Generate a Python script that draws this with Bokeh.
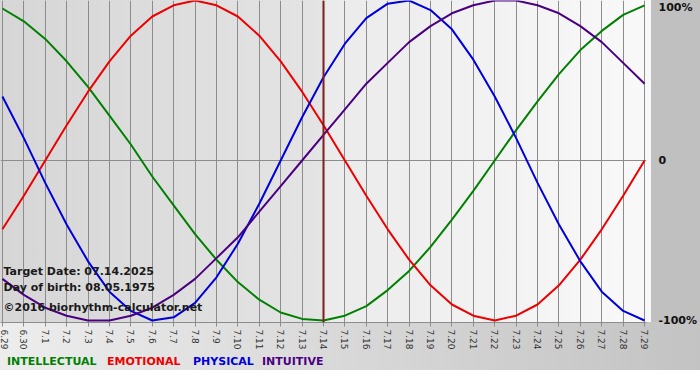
import math
from bokeh.plotting import figure
from bokeh.models import FixedTicker, Span, Label, Range1d, Div
from bokeh.layouts import column
from bokeh.embed import file_html
from bokeh.resources import INLINE

# ---- data ----
dates = ["6.29", "6.30", "7.1", "7.2", "7.3", "7.4", "7.5", "7.6", "7.7", "7.8",
         "7.9", "7.10", "7.11", "7.12", "7.13", "7.14", "7.15", "7.16", "7.17",
         "7.18", "7.19", "7.20", "7.21", "7.22", "7.23", "7.24", "7.25", "7.26",
         "7.27", "7.28", "7.29"]
days = list(range(len(dates)))

intellectual = [0.95, 0.87, 0.76, 0.62, 0.46, 0.28, 0.10, -0.10, -0.28, -0.46,
                -0.62, -0.76, -0.87, -0.95, -0.99, -1.00, -0.97, -0.91, -0.81,
                -0.69, -0.54, -0.37, -0.19, 0.00, 0.19, 0.37, 0.54, 0.69, 0.81,
                0.91, 0.97]
emotional = [-0.43, -0.22, 0.00, 0.22, 0.43, 0.62, 0.78, 0.90, 0.97, 1.00,
             0.97, 0.90, 0.78, 0.62, 0.43, 0.22, 0.00, -0.22, -0.43, -0.62,
             -0.78, -0.90, -0.97, -1.00, -0.97, -0.90, -0.78, -0.62, -0.43,
             -0.22, 0.00]
physical = [0.40, 0.14, -0.14, -0.40, -0.63, -0.82, -0.94, -1.00, -0.98, -0.89,
            -0.73, -0.52, -0.27, 0.00, 0.27, 0.52, 0.73, 0.89, 0.98, 1.00,
            0.94, 0.82, 0.63, 0.40, 0.14, -0.14, -0.40, -0.63, -0.82, -0.94,
            -1.00]
intuitive = [-0.74, -0.84, -0.92, -0.97, -1.00, -1.00, -0.97, -0.92, -0.84,
             -0.74, -0.61, -0.48, -0.32, -0.16, 0.00, 0.16, 0.32, 0.48, 0.61,
             0.74, 0.84, 0.92, 0.97, 1.00, 1.00, 0.97, 0.92, 0.84, 0.74, 0.61,
             0.48]

y_ticks = [-1, 0, 0.96]
y_tick_labels = ["-100%", "0", "100%"]

target_date_text = "Target Date: 07.14.2025"
birth_text = "Day of birth: 08.05.1975"
copyright_text = "\u00a92016 biorhythm-calculator.net"
target_label = "7.14"

series_names = ["INTELLECTUAL", "EMOTIONAL", "PHYSICAL", "INTUITIVE"]
series_colors = ["#008000", "#ee0000", "#0000dd", "#4b0082"]
series_values = [intellectual, emotional, physical, intuitive]

FONT = "DejaVu Sans"

p = figure(width=700, height=352, output_backend="svg", toolbar_location=None,
           x_range=Range1d(days[0] - 0.09, days[-1] + 0.09),
           y_range=Range1d(-1.0125, 1.0),
           y_axis_location="right",
           min_border_left=0, min_border_top=0,
           min_border_right=49, min_border_bottom=30,
           background_fill_color=None, border_fill_color=None,
           outline_line_color=None)

p.styles = {
    "background": (
        "linear-gradient(#c0c0c0,#c0c0c0) 651px 0/49px 322px no-repeat, "
        "linear-gradient(to right,#d6d6d6 0px,#e4e4e4 325px,#ebebeb 326px,#f9f9f9 651px) 0 0/651px 322px no-repeat, "
        "linear-gradient(to right,#ededed,#c3c3c3) 0 0/700px 352px no-repeat, #ffffff"
    )
}

# grids
p.xgrid.ticker = FixedTicker(ticks=days)
p.xgrid.grid_line_color = "#8c8c8c"
p.xgrid.grid_line_width = 1
p.ygrid.ticker = FixedTicker(ticks=[0])
p.ygrid.grid_line_color = "#8c8c8c"
p.ygrid.grid_line_width = 1

# x axis
xa = p.xaxis[0]
xa.ticker = FixedTicker(ticks=days)
xa.major_label_overrides = {d: lab for d, lab in zip(days, dates)}
xa.major_label_orientation = -math.pi / 2
xa.major_label_text_font = FONT
xa.major_label_text_font_size = "9px"
xa.major_label_text_color = "#333333"
xa.major_label_standoff = 3
xa.axis_line_color = "#8c8c8c"
xa.major_tick_line_color = "#8c8c8c"
xa.major_tick_out = 4
xa.major_tick_in = 0
xa.minor_tick_line_color = None

# y axis (right)
ya = p.yaxis[0]
ya.ticker = FixedTicker(ticks=y_ticks)
ya.major_label_overrides = {t: lab for t, lab in zip(y_ticks, y_tick_labels)}
ya.major_label_text_font = FONT
ya.major_label_text_font_size = "11px"
ya.major_label_text_font_style = "bold"
ya.major_label_text_color = "#111111"
ya.major_label_standoff = 6
ya.axis_line_color = None
ya.major_tick_line_color = None
ya.minor_tick_line_color = None

# curves
for vals, col in zip(series_values, series_colors):
    p.line(days, vals, line_color=col, line_width=2)

# target day line
p.add_layout(Span(location=dates.index(target_label), dimension="height",
                  line_color="#7f1f1f", line_width=2))

# info texts
for txt, yy in [(target_date_text, 51), (birth_text, 35), (copyright_text, 15)]:
    p.add_layout(Label(x=3, y=yy, x_units="screen", y_units="screen", text=txt,
                       text_font=FONT, text_font_size="11px", text_font_style="bold",
                       text_color="#1a1a1a", text_baseline="middle"))

# legend row (HTML text below the plot)
legend_x = [7, 107, 193, 262]
spans = "".join(
    f'<span style="position:absolute;left:{lx}px;top:3px;line-height:13px;'
    f'color:{col};white-space:nowrap">{name}</span>'
    for name, col, lx in zip(series_names, series_colors, legend_x)
)
legend_html = (
    '<div style="position:relative;width:700px;height:28px;'
    f'font-family:\'{FONT}\';font-size:11px;font-weight:bold;">{spans}</div>'
)
legend_div = Div(text=legend_html, width=700, height=28,
                 styles={"background": "linear-gradient(to right,#ededed,#c3c3c3) 0 0/700px 18px no-repeat, #ffffff",
                         "margin": "0", "padding": "0"})

layout = column(p, legend_div, spacing=0)

open("out.html", "w").write(file_html(layout, INLINE))
